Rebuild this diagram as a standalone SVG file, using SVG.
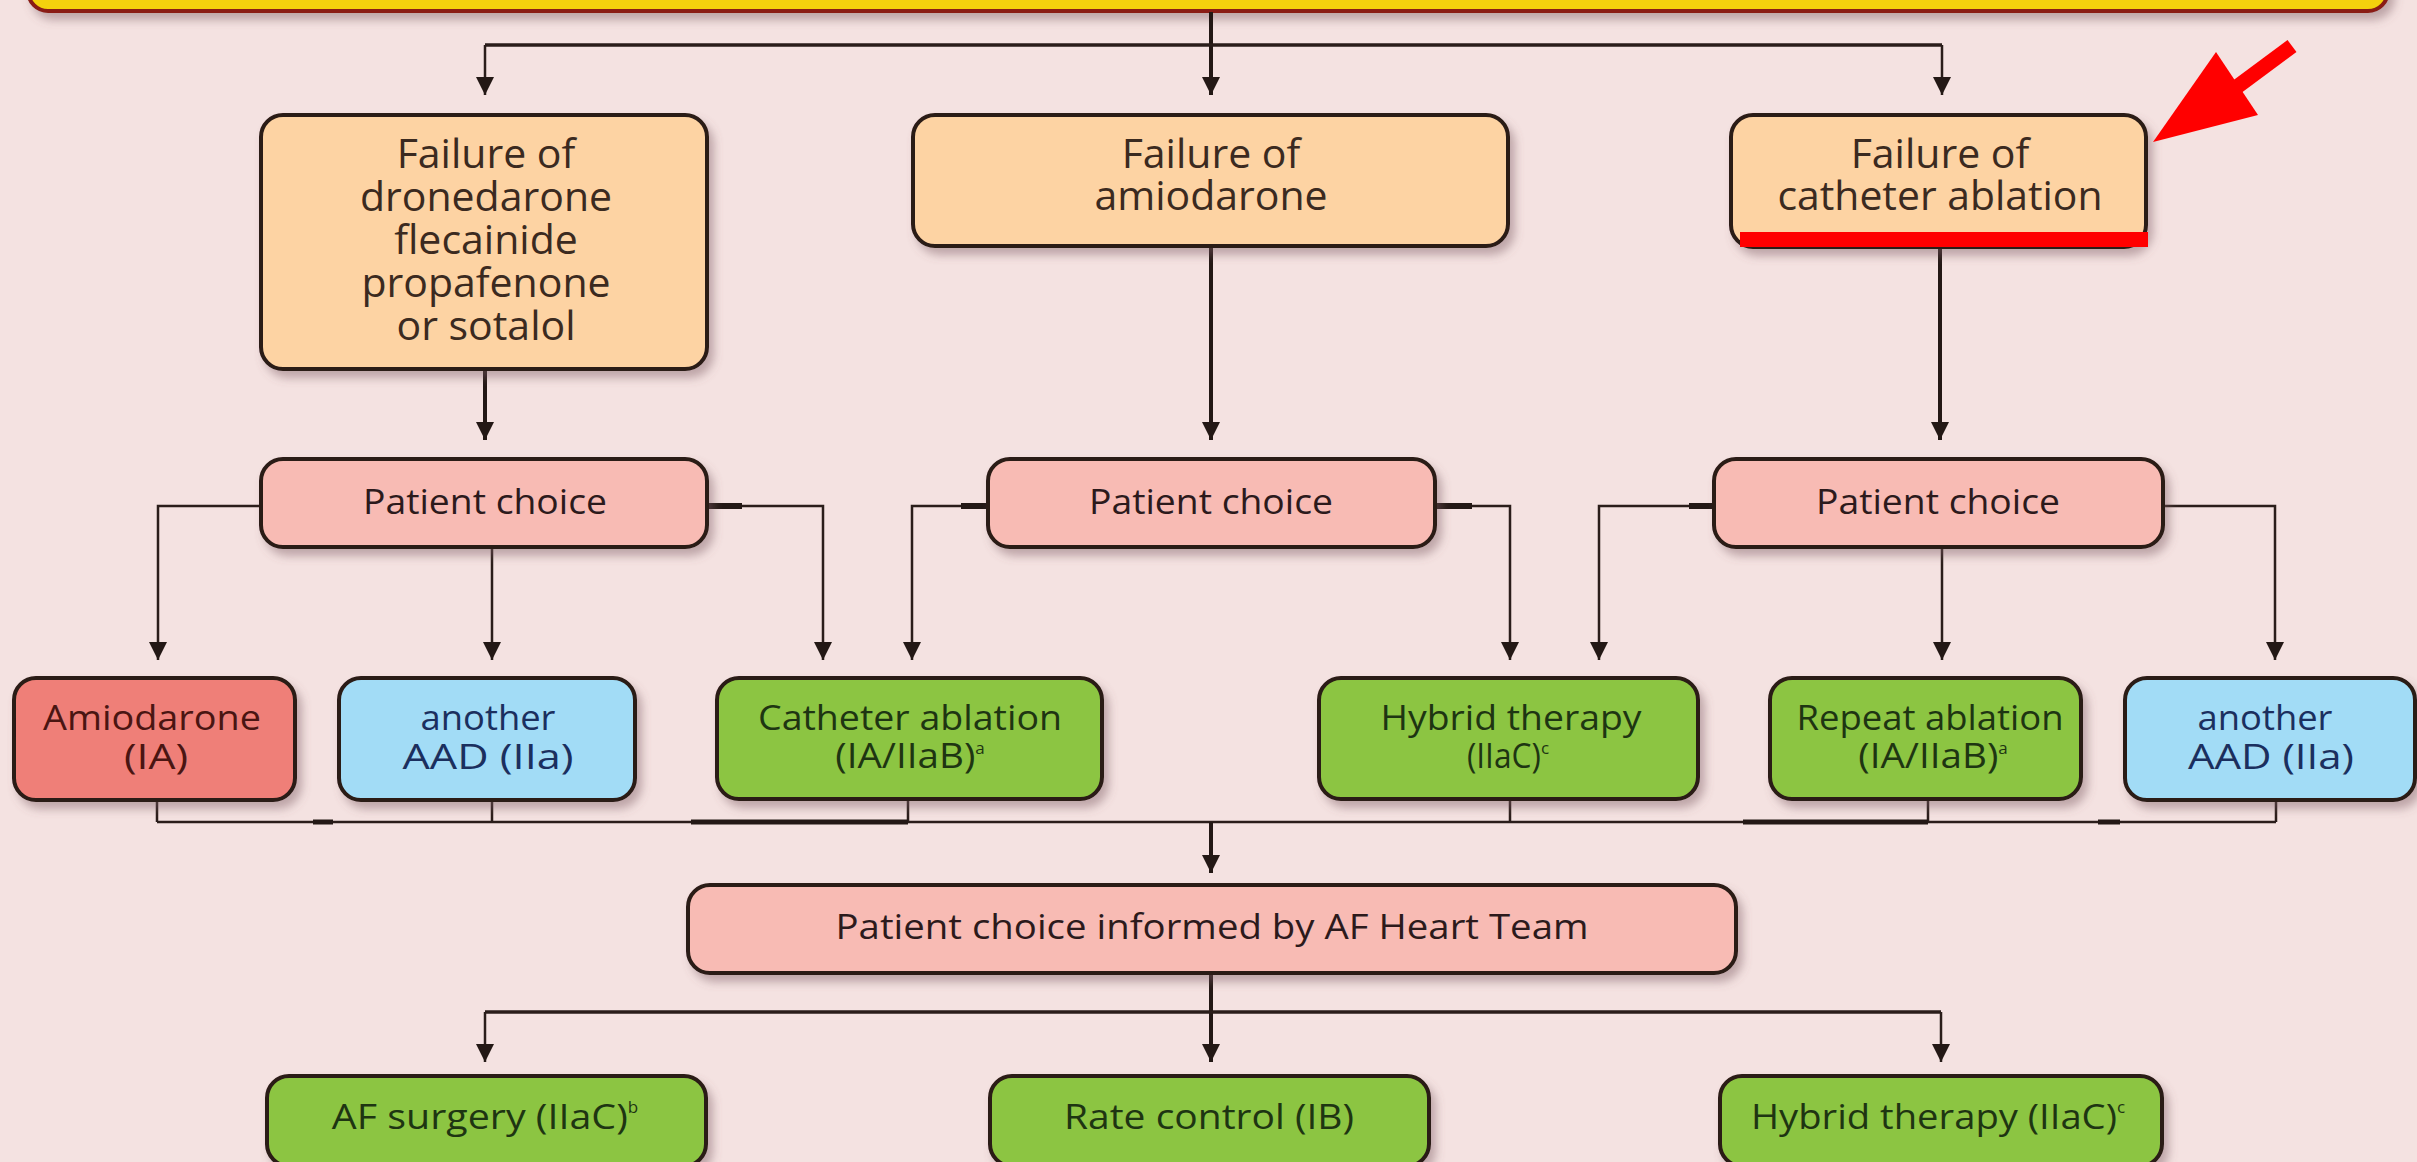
<svg xmlns="http://www.w3.org/2000/svg" width="2417" height="1162" viewBox="0 0 2417 1162">
<defs>
<filter id="sh" x="-10%" y="-20%" width="125%" height="150%">
<feDropShadow dx="5" dy="7" stdDeviation="5" flood-color="#7a5a60" flood-opacity="0.45"/>
</filter>
<marker id="ah" markerUnits="userSpaceOnUse" markerWidth="20" markerHeight="20" refX="18" refY="9" orient="auto">
<path d="M0,0 L18,9 L0,18 z" fill="#231815"/>
</marker>
</defs>
<style>
.box{stroke:#2a1a14;stroke-width:4;filter:url(#sh)}
.peach{fill:#FDD3A3}
.pink{fill:#F8BBB4}
.red{fill:#EF7F78}
.blue{fill:#A2DCF6}
.green{fill:#8CC543}
text{font-family:"Open Sans","Liberation Sans",sans-serif;text-anchor:middle}
.t1{font-size:41px;fill:#3b2a20}
.t2{font-size:35px;fill:#2c1a1c}
.tr{font-size:35px;fill:#4a1512}
.tb{font-size:35px;fill:#1b2f5e}
.tg{font-size:35px;fill:#1e3512}
.sup{font-size:17px}
.ln{fill:none;stroke:#2a1d1a;stroke-width:2.5}
.lk{fill:none;stroke:#231815;stroke-width:4}
.stub{fill:none;stroke:#231815;stroke-width:6}
</style>
<rect width="2417" height="1162" fill="#F4E2E1"/>

<g id="top">
<rect x="28" y="-60" width="2360" height="71" rx="20" fill="#F4D10A" stroke="#8A1E12" stroke-width="4" filter="url(#sh)"/>
</g>

<g id="connectors">
<path class="lk" d="M1211,12 V95" marker-end="url(#ah)"/>
<path class="ln" d="M485,45 H1942" style="stroke-width:3.5"/>
<path class="ln" d="M485,45 V95" marker-end="url(#ah)"/>
<path class="ln" d="M1942,45 V95" marker-end="url(#ah)"/>
<path class="lk" d="M485,370 V440" marker-end="url(#ah)"/>
<path class="lk" d="M1211,247 V440" marker-end="url(#ah)"/>
<path class="lk" d="M1940,247 V440" marker-end="url(#ah)"/>

<path class="ln" d="M261,506 H158 V660" marker-end="url(#ah)"/>
<path class="ln" d="M492,547 V660" marker-end="url(#ah)"/>
<path class="ln" d="M707,506 H823 V660" marker-end="url(#ah)"/>
<path class="stub" d="M707,506 H742"/>
<path class="ln" d="M988,506 H912 V660" marker-end="url(#ah)"/>
<path class="stub" d="M961,506 H988"/>
<path class="ln" d="M1435,506 H1510 V660" marker-end="url(#ah)"/>
<path class="stub" d="M1435,506 H1472"/>
<path class="ln" d="M1714,506 H1599 V660" marker-end="url(#ah)"/>
<path class="stub" d="M1689,506 H1714"/>
<path class="ln" d="M1942,547 V660" marker-end="url(#ah)"/>
<path class="ln" d="M2163,506 H2275 V660" marker-end="url(#ah)"/>

<path class="ln" d="M157,800 V822 M492,800 V822 M908,800 V822 M1510,800 V822 M1928,800 V822 M2276,800 V822 M157,822 H2276"/>
<path class="stub" d="M691,822 H908 M1743,822 H1928 M313,822 H333 M2098,822 H2120" style="stroke-width:5"/>
<path class="lk" d="M1211,822 V873" marker-end="url(#ah)"/>
<path class="lk" d="M1211,973 V1062" marker-end="url(#ah)"/>
<path class="ln" d="M485,1012 H1941" style="stroke-width:3.5"/>
<path class="ln" d="M485,1012 V1062" marker-end="url(#ah)"/>
<path class="ln" d="M1941,1012 V1062" marker-end="url(#ah)"/>
</g>

<g id="fail1">
<rect class="box peach" x="261" y="115" width="446" height="254" rx="22"/>
<text class="t1"><tspan x="486" y="168">Failure of</tspan><tspan x="486" y="211">dronedarone</tspan><tspan x="486" y="254">flecainide</tspan><tspan x="486" y="297">propafenone</tspan><tspan x="486" y="340">or sotalol</tspan></text>
</g>
<g id="fail2">
<rect class="box peach" x="913" y="115" width="595" height="131" rx="22"/>
<text class="t1"><tspan x="1211" y="168">Failure of</tspan><tspan x="1211" y="210">amiodarone</tspan></text>
</g>
<g id="fail3">
<rect class="box peach" x="1731" y="115" width="415" height="132" rx="22"/>
<text class="t1"><tspan x="1940" y="168">Failure of</tspan><tspan x="1940" y="210" textLength="325" lengthAdjust="spacingAndGlyphs">catheter ablation</tspan></text>
</g>

<g id="pc1">
<rect class="box pink" x="261" y="459" width="446" height="88" rx="22"/>
<text class="t2" x="485" y="514" textLength="244" lengthAdjust="spacingAndGlyphs">Patient choice</text>
</g>
<g id="pc2">
<rect class="box pink" x="988" y="459" width="447" height="88" rx="22"/>
<text class="t2" x="1211" y="514" textLength="244" lengthAdjust="spacingAndGlyphs">Patient choice</text>
</g>
<g id="pc3">
<rect class="box pink" x="1714" y="459" width="449" height="88" rx="22"/>
<text class="t2" x="1938" y="514" textLength="244" lengthAdjust="spacingAndGlyphs">Patient choice</text>
</g>

<g id="amio">
<rect class="box red" x="14" y="678" width="281" height="122" rx="22"/>
<text class="tr"><tspan x="152" y="730" textLength="218" lengthAdjust="spacingAndGlyphs">Amiodarone</tspan><tspan x="156" y="769" textLength="64" lengthAdjust="spacingAndGlyphs">(IA)</tspan></text>
</g>
<g id="aad1">
<rect class="box blue" x="339" y="678" width="296" height="122" rx="22"/>
<text class="tb"><tspan x="488" y="730" textLength="135" lengthAdjust="spacingAndGlyphs">another</tspan><tspan x="488" y="769" textLength="171" lengthAdjust="spacingAndGlyphs">AAD (IIa)</tspan></text>
</g>
<g id="cath">
<rect class="box green" x="717" y="678" width="385" height="121" rx="22"/>
<text class="tg"><tspan x="910" y="730" textLength="304" lengthAdjust="spacingAndGlyphs">Catheter ablation</tspan><tspan x="910" y="768" textLength="140" lengthAdjust="spacingAndGlyphs">(IA/IIaB)</tspan><tspan class="sup" dy="-14">a</tspan></text>
</g>
<g id="hyb1">
<rect class="box green" x="1319" y="678" width="379" height="121" rx="22"/>
<text class="tg"><tspan x="1511" y="730" textLength="261" lengthAdjust="spacingAndGlyphs">Hybrid therapy</tspan><tspan x="1508" y="768" textLength="74" lengthAdjust="spacingAndGlyphs">(IIaC)</tspan><tspan class="sup" dy="-14">c</tspan></text>
</g>
<g id="rep">
<rect class="box green" x="1770" y="678" width="311" height="121" rx="22"/>
<text class="tg"><tspan x="1930" y="730" textLength="267" lengthAdjust="spacingAndGlyphs">Repeat ablation</tspan><tspan x="1933" y="768" textLength="140" lengthAdjust="spacingAndGlyphs">(IA/IIaB)</tspan><tspan class="sup" dy="-14">a</tspan></text>
</g>
<g id="aad2">
<rect class="box blue" x="2125" y="678" width="290" height="122" rx="22"/>
<text class="tb"><tspan x="2265" y="730" textLength="135" lengthAdjust="spacingAndGlyphs">another</tspan><tspan x="2271" y="769" textLength="166" lengthAdjust="spacingAndGlyphs">AAD (IIa)</tspan></text>
</g>

<g id="team">
<rect class="box pink" x="688" y="885" width="1048" height="88" rx="22"/>
<text class="t2" x="1212" y="939" textLength="753" lengthAdjust="spacingAndGlyphs">Patient choice informed by AF Heart Team</text>
</g>

<g id="surg">
<rect class="box green" x="267" y="1076" width="439" height="90" rx="22"/>
<text class="tg"><tspan x="485" y="1129" textLength="296" lengthAdjust="spacingAndGlyphs">AF surgery (IIaC)</tspan><tspan class="sup" dy="-16">b</tspan></text>
</g>
<g id="rate">
<rect class="box green" x="990" y="1076" width="439" height="90" rx="22"/>
<text class="tg" x="1209" y="1129" textLength="290" lengthAdjust="spacingAndGlyphs">Rate control (IB)</text>
</g>
<g id="hyb2">
<rect class="box green" x="1720" y="1076" width="442" height="90" rx="22"/>
<text class="tg"><tspan x="1938" y="1129" textLength="366" lengthAdjust="spacingAndGlyphs">Hybrid therapy (IIaC)</tspan><tspan class="sup" dy="-16">c</tspan></text>
</g>

<g id="annotation">
<rect x="1740" y="232" width="408" height="15" fill="#FF0000"/>
<polygon points="2153,142 2216,52 2258,115" fill="#FF0000"/>
<line x1="2292" y1="46" x2="2230" y2="92" stroke="#FF0000" stroke-width="15"/>
</g>
</svg>
